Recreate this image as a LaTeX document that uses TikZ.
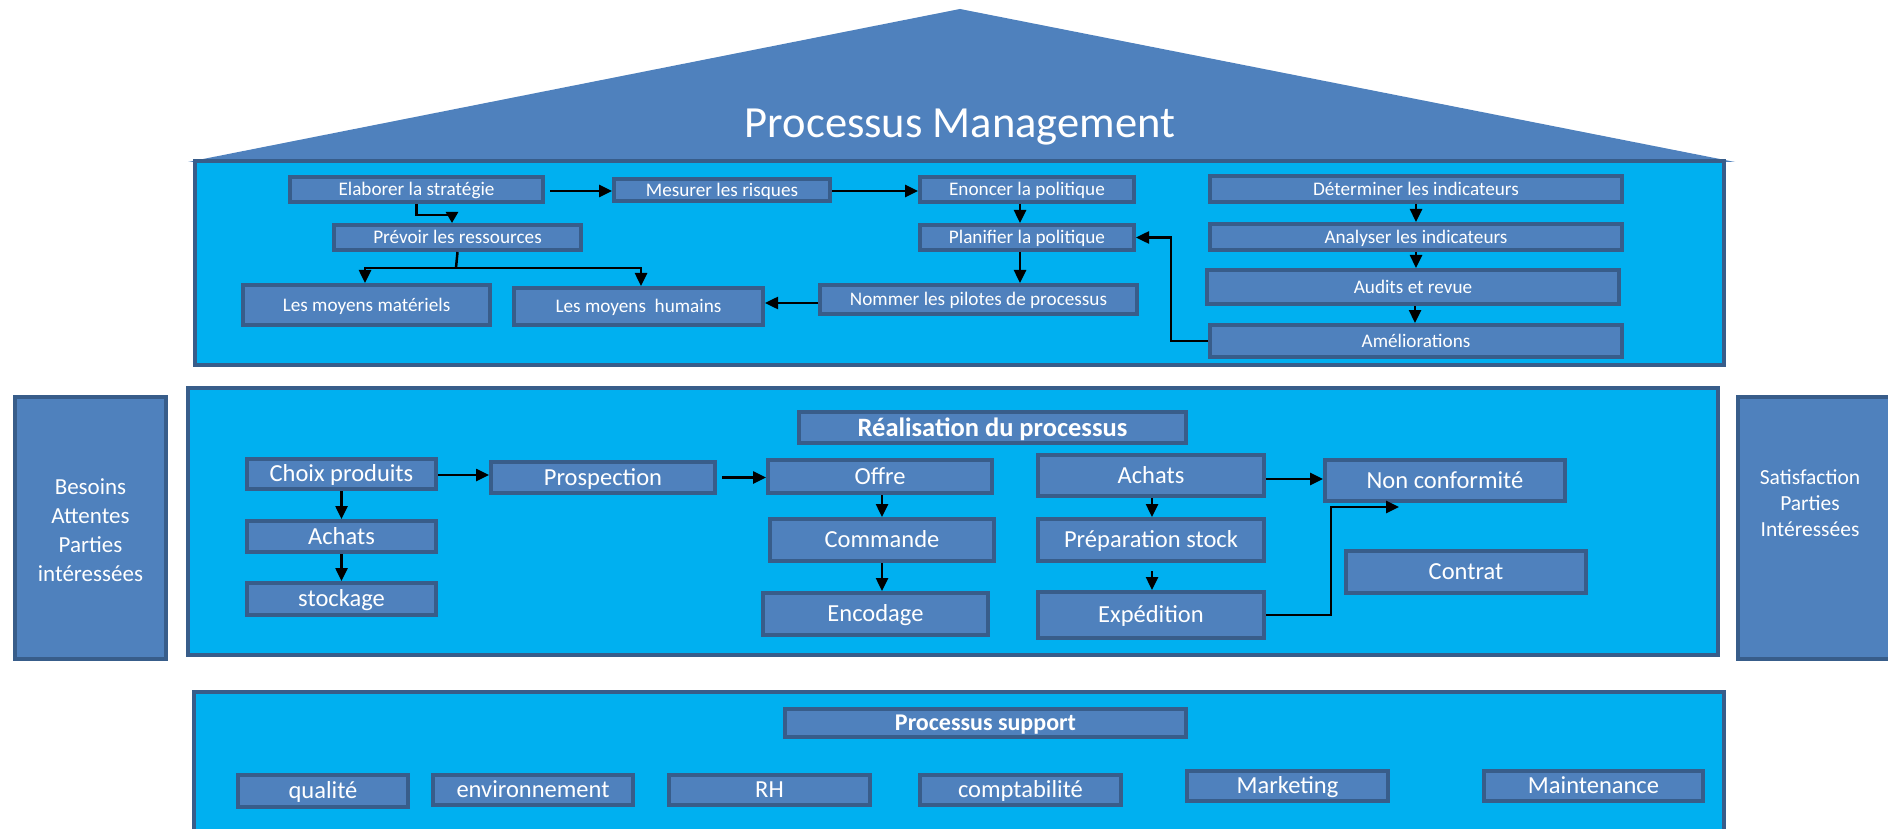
\documentclass[tikz,border=0pt]{standalone}
\usepackage{fontspec}
\setmainfont{Carlito}
\usetikzlibrary{arrows.meta}
\definecolor{cyanp}{HTML}{00B0F0}
\definecolor{boxf}{HTML}{4F81BD}
\definecolor{boxl}{HTML}{385D8A}
\begin{document}
\begin{tikzpicture}[x=1pt,y=-1pt,
 panel/.style={draw=boxl,line width=3.5pt,fill=cyanp},
 bx/.style={draw=boxl,line width=4pt,fill=boxf,text=white,inner sep=0pt,anchor=center},
 mg/.style={bx,font=\fontsize{19.2}{21}\selectfont,text height=16.2pt,text depth=3.8pt},
 md/.style={bx,font=\fontsize{24.5}{27}\selectfont,text height=20.7pt,text depth=4.9pt},
 mb/.style={bx,font=\bfseries\fontsize{26.5}{29}\selectfont,text height=22.4pt,text depth=5.3pt},
 arr/.style={draw=black,line width=2.5pt,-{Triangle[length=13pt,width=12pt]}},
 ln/.style={draw=black,line width=2.5pt},
]
\useasboundingbox (0,0) rectangle (1888,829);
\fill[white] (0,0) rectangle (1888,829);
% roof
\fill[boxf] (188,162) -- (960,9) -- (1735,162) -- cycle;
\node[text=white,font=\fontsize{44.5}{48}\selectfont] (title) at (960,127) {Processus Management};
% panels
\path[panel] (195,161) rectangle (1724,365);
\path[panel] (188,388) rectangle (1718,655);
\path[panel] (194,692) rectangle (1724,845);
% side boxes
\node[bx,minimum width=151pt,minimum height=262pt] (besoins) at (90.5,528) {};
\node[text=white,align=center,font=\fontsize{23}{29}\selectfont] (besoinst) at ([yshift=-2pt]besoins.center) {Besoins\\Attentes\\Parties\\intéressées};
\node[bx,minimum width=155pt,minimum height=262pt] (satis) at (1815.5,528) {};
\node[text=white,align=center,font=\fontsize{21.5}{26}\selectfont] (satist) at ([xshift=-5.5pt,yshift=25pt]satis.center) {Satisfaction\\Parties\\Intéressées};
% management boxes
\node[mg,minimum width=253pt,minimum height=25pt] (elab) at (416.5,189.5) {Elaborer la stratégie};
\node[mg,minimum width=216pt,minimum height=22pt] (mes) at (722,190) {Mesurer les risques};
\node[mg,minimum width=214pt,minimum height=25pt] (enon) at (1027,189.5) {Enoncer la politique};
\node[mg,minimum width=247pt,minimum height=25pt] (prev) at (457.5,237.5) {Prévoir les ressources};
\node[mg,minimum width=214pt,minimum height=25pt] (plan) at (1027,237.5) {Planifier la politique};
\node[mg,minimum width=247pt,minimum height=40pt] (mat) at (366.5,305) {Les moyens matériels};
\node[mg,minimum width=249pt,minimum height=37pt] (hum) at (638.5,306.5) {Les moyens~ humains};
\node[mg,minimum width=317pt,minimum height=29pt] (nom) at (978.5,299.5) {Nommer les pilotes de processus};
\node[mg,minimum width=412pt,minimum height=26pt] (det) at (1416,189) {Déterminer les indicateurs};
\node[mg,minimum width=412pt,minimum height=26pt] (ana) at (1416,237) {Analyser les indicateurs};
\node[mg,minimum width=412pt,minimum height=34pt] (aud) at (1413,287) {Audits et revue};
\node[mg,minimum width=412pt,minimum height=32pt] (ame) at (1416,341) {Améliorations};
% middle boxes
\node[mb,minimum width=387pt,minimum height=31pt] (real) at (992.5,427.5) {Réalisation du processus};
\node[md,minimum width=189pt,minimum height=30pt] (choix) at (341.5,474) {Choix produits};
\node[md,minimum width=189pt,minimum height=31pt] (ach1) at (341.5,536.5) {Achats};
\node[md,minimum width=189pt,minimum height=32pt] (stock) at (341.5,599) {stockage};
\node[md,minimum width=224pt,minimum height=31pt] (prosp) at (603,477.5) {Prospection};
\node[md,minimum width=224pt,minimum height=33pt] (offre) at (880,476.5) {Offre};
\node[md,minimum width=224pt,minimum height=42pt] (comm) at (882,540) {Commande};
\node[md,minimum width=225pt,minimum height=42pt] (enc) at (875.5,614) {Encodage};
\node[md,minimum width=226pt,minimum height=41pt] (ach2) at (1151,475.5) {Achats};
\node[md,minimum width=226pt,minimum height=42pt] (prep) at (1151,540) {Préparation stock};
\node[md,minimum width=226pt,minimum height=46pt] (exp) at (1151,615) {Expédition};
\node[md,minimum width=240pt,minimum height=41pt] (nonc) at (1445,480.5) {Non conformité};
\node[md,minimum width=240pt,minimum height=42pt] (contrat) at (1466,572) {Contrat};
% bottom boxes
\node[mb,font=\bfseries\fontsize{24}{26}\selectfont,text height=20.3pt,text depth=4.8pt,minimum width=401pt,minimum height=28pt] (supp) at (985.5,723) {Processus support};
\node[md,minimum width=170pt,minimum height=32pt] (qual) at (323,791) {qualité};
\node[md,minimum width=200pt,minimum height=30pt] (env) at (533,790) {environnement};
\node[md,minimum width=201pt,minimum height=30pt] (rh) at (769.5,790) {RH};
\node[md,minimum width=201pt,minimum height=30pt] (compt) at (1020.5,790) {comptabilité};
\node[md,minimum width=201pt,minimum height=30pt] (mark) at (1287.5,786) {Marketing};
\node[md,minimum width=219pt,minimum height=30pt] (maint) at (1593.5,786) {Maintenance};
% management connectors
\coordinate (k1) at (452,215);
\coordinate (j1) at (456,268);
\draw[arr,shorten <=5pt] ([yshift=-1.5pt]elab.east) -- ([yshift=-1.5pt]elab.east -| mes.west);
\draw[arr] ([yshift=-1pt]mes.east) -- ([yshift=-1pt]mes.east -| enon.west);
\draw[arr,-{Triangle[length=11pt,width=12pt]}] (elab.south) |- (k1) -- (k1 |- prev.north);
\draw[ln] (prev.south) -- (j1);
\draw[arr] (j1) -| ([xshift=-1.5pt]mat.north);
\draw[arr] (j1) -| ([xshift=2.5pt]hum.north);
\draw[arr] ([xshift=-7pt]enon.south) -- ([xshift=-7pt]plan.north);
\draw[arr] ([xshift=-7pt]plan.south) -- ([xshift=-7pt]plan.south |- nom.north);
\draw[arr] ([yshift=-3.5pt]nom.west) -- ([yshift=-3.5pt]nom.west -| hum.east);
\draw[arr] (det.south) -- (det.south |- ana.north);
\draw[arr] (ana.south) -- (ana.south |- aud.north);
\draw[arr] ([xshift=2pt]aud.south) -- ([xshift=2pt]aud.south |- ame.north);
\draw[arr] (ame.west) -- ++(-37,0) |- (plan.east);
% middle connectors
\coordinate (ncend) at (1399,507);
\draw[arr] ([yshift=-1pt]choix.east) -- ([yshift=-1pt]choix.east -| prosp.west);
\draw[arr] (choix.south) -- (ach1.north);
\draw[arr] (ach1.south) -- (stock.north);
\draw[arr,shorten <=5pt] (prosp.east) -- (prosp.east -| offre.west);
\draw[arr] ([xshift=2pt]offre.south) -- ([xshift=2pt]offre.south |- comm.north);
\draw[arr] (comm.south) -- (comm.south |- enc.north);
\draw[arr] ([xshift=1pt]ach2.south) -- ([xshift=1pt]prep.north);
\draw[arr,shorten <=8pt] ([xshift=1pt]prep.south) -- ([xshift=1pt]exp.north);
\draw[arr] ([yshift=-3.5pt]ach2.east) -- ([yshift=-3.5pt]ach2.east -| nonc.west);
\draw[arr] (exp.east) -- ++(65,0) |- (ncend);
\end{tikzpicture}
\end{document}
